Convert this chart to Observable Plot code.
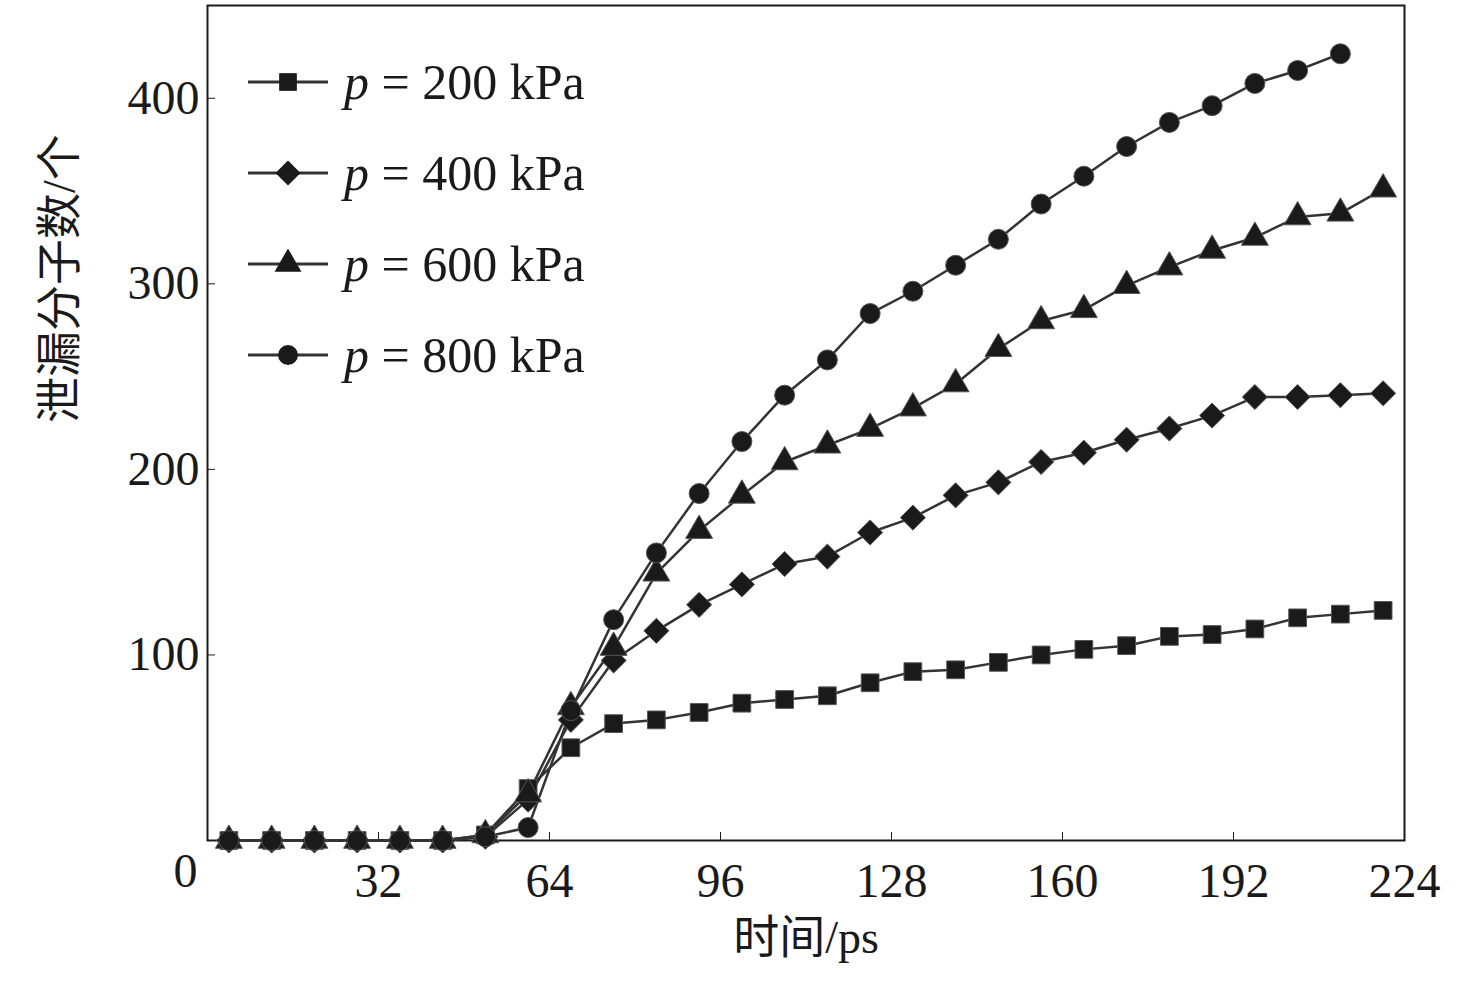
<!DOCTYPE html>
<html><head><meta charset="utf-8">
<script src="https://cdn.jsdelivr.net/npm/d3@7"></script>
<script src="https://cdn.jsdelivr.net/npm/@observablehq/plot@0.6"></script>
<style>body{margin:0;background:#fff}#wrap{position:relative;width:1476px;height:988px}
.leg{position:absolute;left:248px;font-family:"Liberation Serif",serif;font-size:50px;color:#1a1a1a}
.leg div{height:91px;display:flex;align-items:center}
</style></head><body><div id="wrap"></div>
<script>
const times=[4,12,20,28,36,44,52,60,68,76,84,92,100,108,116,124,132,140,148,156,164,172,180,188,196,204,212,220];
const p200=[0,0,0,0,0,0,3,28,50,63,65,69,74,76,78,85,91,92,96,100,103,105,110,111,114,120,122,124];
const p400=[0,0,0,0,0,0,2,22,65,97,113,127,138,149,153,166,174,186,193,204,209,216,222,229,239,239,240,241];
const p600=[0,0,0,0,0,0,3,25,72,104,144,167,186,204,213,222,233,246,265,280,286,299,309,318,325,336,338,351];
const p800=[0,0,0,0,0,0,2,7,70,119,155,187,215,240,259,284,296,310,324,343,358,374,387,396,408,415,424];
const seriesNames=["p = 200 kPa","p = 400 kPa","p = 600 kPa","p = 800 kPa"];
const wideDiamond={draw(ctx,size){const r=Math.sqrt(size/2);ctx.moveTo(0,-r);ctx.lineTo(r,0);ctx.lineTo(0,r);ctx.lineTo(-r,0);ctx.closePath();}};
const symbols=[d3.symbolSquare,wideDiamond,d3.symbolTriangle,d3.symbolCircle];
const xTicks=[32,64,96,128,160,192,224], yTicks=[100,200,300,400];
const all=[p200,p400,p600,p800];
const data=all.flatMap((arr,i)=>arr.map((v,j)=>({t:times[j],v,s:seriesNames[i]})));
const font='"Liberation Serif","Noto Sans CJK SC",serif';
const chart=Plot.plot({width:1476,height:988,marginLeft:207,marginRight:72,marginTop:5,marginBottom:148,
 style:{fontFamily:font,fontSize:"48px",color:"#1a1a1a",background:"white"},
 x:{domain:[0,224],ticks:xTicks,label:null,tickSize:-8,tickPadding:30},
 y:{domain:[0,450],ticks:yTicks,label:null,tickSize:-8,tickPadding:16},
 symbol:{domain:seriesNames,range:symbols},
 marks:[
  Plot.frame({stroke:"#1a1a1a",strokeWidth:2}),
  Plot.line(data,{x:"t",y:"v",z:"s",stroke:"#333",strokeWidth:2.5}),
  Plot.dot(data,{x:"t",y:"v",symbol:"s",fill:"#1a1a1a",stroke:"#555",strokeWidth:1,r:10}),
  Plot.text(["0"],{frameAnchor:"bottom-left",dx:-34,dy:46,fontSize:48,fill:"#1a1a1a"}),
  Plot.text(["时间/ps"],{frameAnchor:"bottom",dy:112,fontSize:46,fill:"#1a1a1a"}),
  Plot.text(["泄漏分子数/个"],{frameAnchor:"left",dx:-147,rotate:-90,fontSize:46,fill:"#1a1a1a"})
 ]});
const wrap=document.getElementById("wrap");wrap.appendChild(chart);
const leg=document.createElement("div");leg.className="leg";leg.style.top="36px";
seriesNames.forEach((n,i)=>{
 const sym=d3.symbol(symbols[i],314)();
 const row=document.createElement("div");
 row.innerHTML=`<svg width="80" height="30"><line x1="0" x2="80" y1="15" y2="15" stroke="#333" stroke-width="3"/><path d="${sym}" transform="translate(40,15)" fill="#1a1a1a"/></svg><span style="margin-left:16px"><i>p</i> = ${n.slice(4)}</span>`;
 leg.appendChild(row);});
wrap.appendChild(leg);
</script></body></html>
